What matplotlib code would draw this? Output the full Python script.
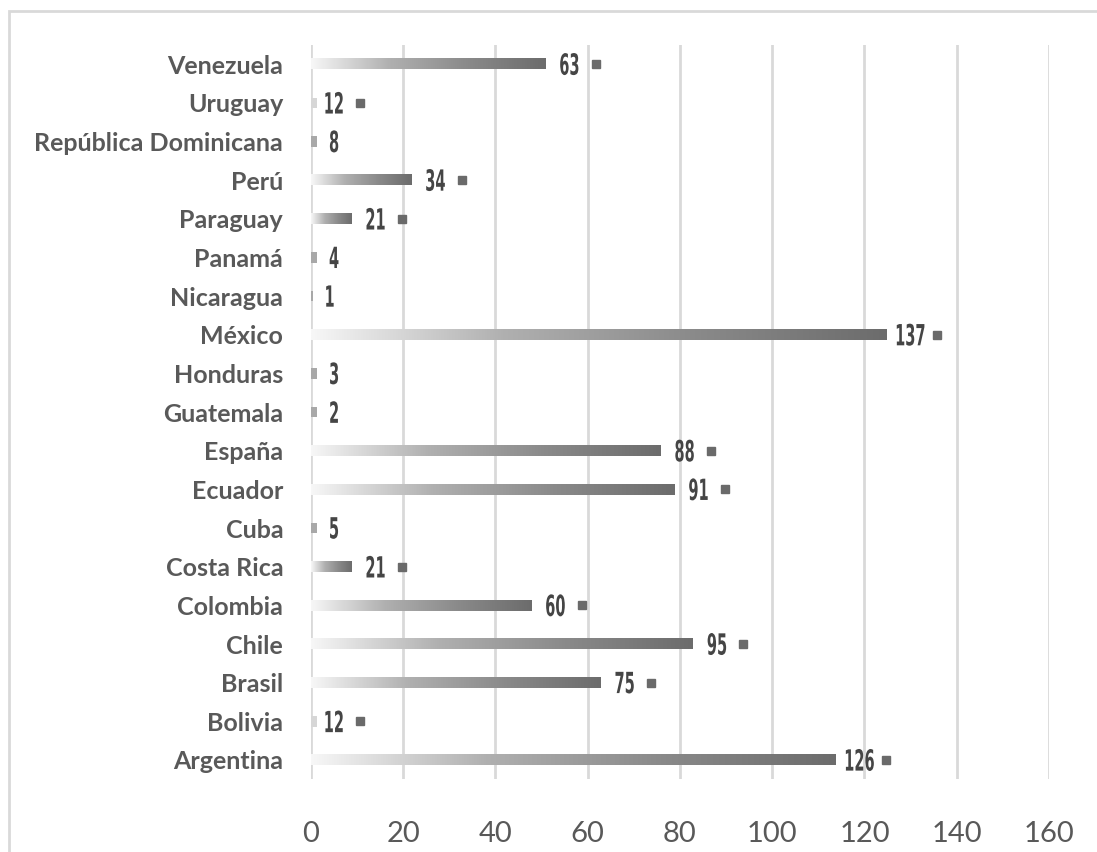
import matplotlib
import matplotlib.pyplot as plt
import matplotlib.transforms as mtransforms
import numpy as np
from matplotlib.colors import LinearSegmentedColormap
from matplotlib.font_manager import FontProperties
from matplotlib.patches import PathPatch, Rectangle
from matplotlib.textpath import TextPath

matplotlib.use('Agg')

countries = ["Argentina", "Bolivia", "Brasil", "Chile", "Colombia", "Costa Rica", "Cuba",
             "Ecuador", "España", "Guatemala", "Honduras", "México", "Nicaragua", "Panamá",
             "Paraguay", "Perú", "República Dominicana", "Uruguay", "Venezuela"]
values = [126, 12, 75, 95, 60, 21, 5, 91, 88, 2, 3, 137, 1, 4, 21, 34, 8, 12, 63]
xticks = [0, 20, 40, 60, 80, 100, 120, 140, 160]

fig = plt.figure(figsize=(10.97, 8.52), dpi=100)
ax = fig.add_axes([0.2835, 0.0853, 0.6727, 0.8622])

# outer frame (only top/left visible in the crop)
fig.patches.append(Rectangle((9 / 1097, -0.1), 1.2, 1 - 11 / 852 + 0.1, transform=fig.transFigure,
                             fill=False, edgecolor='#d9d9d9', linewidth=2))

cmap = LinearSegmentedColormap.from_list('g', ['#f7f7f7', '#b0b0b0', '#8a8a8a', '#6c6c6c'])
grad = np.linspace(0, 1, 256).reshape(1, -1)
h = 0.27
lab_font = FontProperties(family='DejaVu Sans', weight='bold')


def condensed_label(x, y, s, size=21, squeeze=0.5):
    # narrow, tall digits like the original condensed label font
    tp = TextPath((0, 0), s, size=size, prop=lab_font)
    ext = tp.get_extents()
    cx, cy = (ext.x0 + ext.x1) / 2, (ext.y0 + ext.y1) / 2
    tr = (mtransforms.Affine2D().translate(-cx, -cy).scale(squeeze, 1).scale(fig.dpi / 72)
          + mtransforms.ScaledTranslation(x, y, ax.transData))
    ax.add_patch(PathPatch(tp, transform=tr, facecolor='#454545', edgecolor='none', zorder=4))


for i, v in enumerate(values):
    bar_end = max(v - 12.2, 1.4 if v > 1 else 0.5)
    if v > 12:
        ax.imshow(grad, cmap=cmap, aspect='auto', extent=[0, bar_end, i - h / 2, i + h / 2],
                  interpolation='bilinear', zorder=3)
    else:
        c = '#d6d6d6' if v > 9 else '#a8a8a8'
        ax.barh(i, bar_end, height=h, color=c, zorder=3)
    lx = max(v - 7, bar_end + 3.6)
    condensed_label(lx, i, str(v))
    if v > 9:
        ax.plot(v - 1.3, i, marker='s', markersize=6, color='#6a6a6a', linestyle='none', zorder=4)

ax.set_xlim(0, 160)
ax.set_ylim(-0.5, len(values) - 0.5)
ax.set_xticks(xticks)
ax.set_yticks(range(len(countries)))
ax.set_yticklabels(countries, fontsize=18, fontweight='bold', color='#595959', family='Lato')
for t in ax.get_xticklabels():
    t.set_family('Lato')
ax.tick_params(axis='x', labelsize=21, labelcolor='#595959', length=0, pad=30)
ax.tick_params(axis='y', length=0, pad=20)
ax.grid(axis='x', color='#d9d9d9', linewidth=2, zorder=0)
ax.set_axisbelow(True)
for s in ax.spines.values():
    s.set_visible(False)

plt.savefig('out.png', dpi=100)
plt.close(fig)
